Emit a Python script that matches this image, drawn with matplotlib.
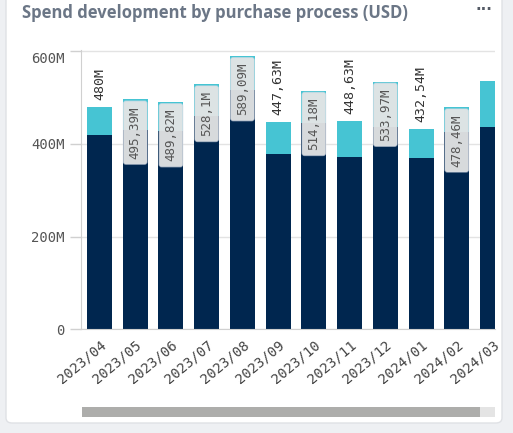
import numpy as np
import matplotlib
matplotlib.use("Agg")
import matplotlib.pyplot as plt
import matplotlib.transforms as mtransforms
from matplotlib.patches import FancyBboxPatch, Rectangle

# data (millions USD)
months = ['2023/04', '2023/05', '2023/06', '2023/07', '2023/08', '2023/09',
          '2023/10', '2023/11', '2023/12', '2024/01', '2024/02', '2024/03']
dark_part = [418, 430, 428, 460, 515, 378, 445, 372, 437, 370, 425, 435]
totals = [480, 495.39, 489.82, 528.1, 589.09, 447.63,
          514.18, 448.63, 533.97, 432.54, 478.46, 536]
label_mode = ['out', 'in', 'in', 'in', 'in', 'out', 'in', 'out', 'in', 'out', 'in', None]
y_ticks = [0, 200, 400, 600]
y_tick_labels = ['0', '200M', '400M', '600M']

NAVY = '#00264f'
CYAN = '#46c4d3'
MONO = 'DejaVu Sans Mono'

W, H = 513, 433
fig = plt.figure(figsize=(W / 100, H / 100), dpi=100)
fig.patch.set_facecolor('#eef0f3')

# card background
card = FancyBboxPatch((6 / W, 10 / H), 496 / W, 440 / H,
                      boxstyle='round,pad=0,rounding_size=0.012',
                      transform=fig.transFigure, facecolor='white',
                      edgecolor='#dfe1e5', lw=1, zorder=-5)
fig.patches.append(card)

fig.text(22 / W, 1 - 13 / H, 'Spend development by purchase process (USD)',
         fontsize=12, fontweight='bold', family='Open Sans', color='#6b7686',
         va='center', ha='left')
fig.text(484 / W, 1 - 10 / H, '···', fontsize=11, fontweight='bold',
         color='#555b66', va='center', ha='center')

ax = fig.add_axes([81 / W, (H - 329.3) / H, 414 / W, 279.3 / H])
ax.set_zorder(2)
ax.set_facecolor('none')

x = np.arange(len(months))
cyan_part = np.array(totals) - np.array(dark_part)
ax.bar(x, dark_part, width=0.7, color=NAVY, zorder=2)
ax.bar(x, cyan_part, bottom=dark_part, width=0.7, color=CYAN, zorder=2)

for i, (tot, mode) in enumerate(zip(totals, label_mode)):
    if mode is None:
        continue
    txt = f'{tot:g}'.replace('.', ',') + 'M'
    if mode == 'out':
        ax.annotate(txt, (i, tot), xytext=(0, 5), textcoords='offset points',
                    rotation=90, ha='center', va='bottom', fontsize=9.5,
                    family=MONO, color='#333333', zorder=4)
    else:
        ax.annotate(txt, (i, tot), xytext=(0, -5), textcoords='offset points',
                    rotation=90, ha='center', va='top', fontsize=9,
                    family=MONO, color='#555555', zorder=4,
                    bbox=dict(boxstyle='round,pad=0.42,rounding_size=0.2',
                              facecolor=(0.9, 0.9, 0.9, 0.94),
                              edgecolor=(0.85, 0.87, 0.9, 0.6), lw=1))

ax.set_xlim(-0.518, 11.07)
ax.set_ylim(0, 602)
ax.set_yticks(y_ticks)
ax.set_yticklabels(y_tick_labels, family=MONO, fontsize=10, color='#555555')
ax.set_xticks(x)
ax.set_xticklabels(months, rotation=40, ha='right', rotation_mode='anchor',
                   family=MONO, fontsize=10, color='#444444')
ax.tick_params(axis='y', length=8, width=1, color='#d0d0d0', pad=4)
ax.tick_params(axis='x', length=0, pad=6)
ax.yaxis.grid(True, color='#e3e3e3', lw=1, zorder=0)
ax.set_axisbelow(True)
for s in ['top', 'right']:
    ax.spines[s].set_visible(False)
ax.spines['left'].set_color('#d0d0d0')
ax.spines['bottom'].set_color('#d0d0d0')

# top tick label sits a bit below its gridline
top_lbl = ax.get_yticklabels()[-1]
top_lbl.set_transform(top_lbl.get_transform() +
                      mtransforms.ScaledTranslation(0, -7 / 100, fig.dpi_scale_trans))

# scrollbar
fig.patches.append(Rectangle((82 / W, 1 - 417 / H), 413 / W, 10 / H,
                             transform=fig.transFigure, facecolor='#e4e4e4',
                             edgecolor='none', zorder=1))
fig.patches.append(Rectangle((82 / W, 1 - 417 / H), 398 / W, 10 / H,
                             transform=fig.transFigure, facecolor='#adadab',
                             edgecolor='none', zorder=1))

fig.savefig('out.png', dpi=100)
